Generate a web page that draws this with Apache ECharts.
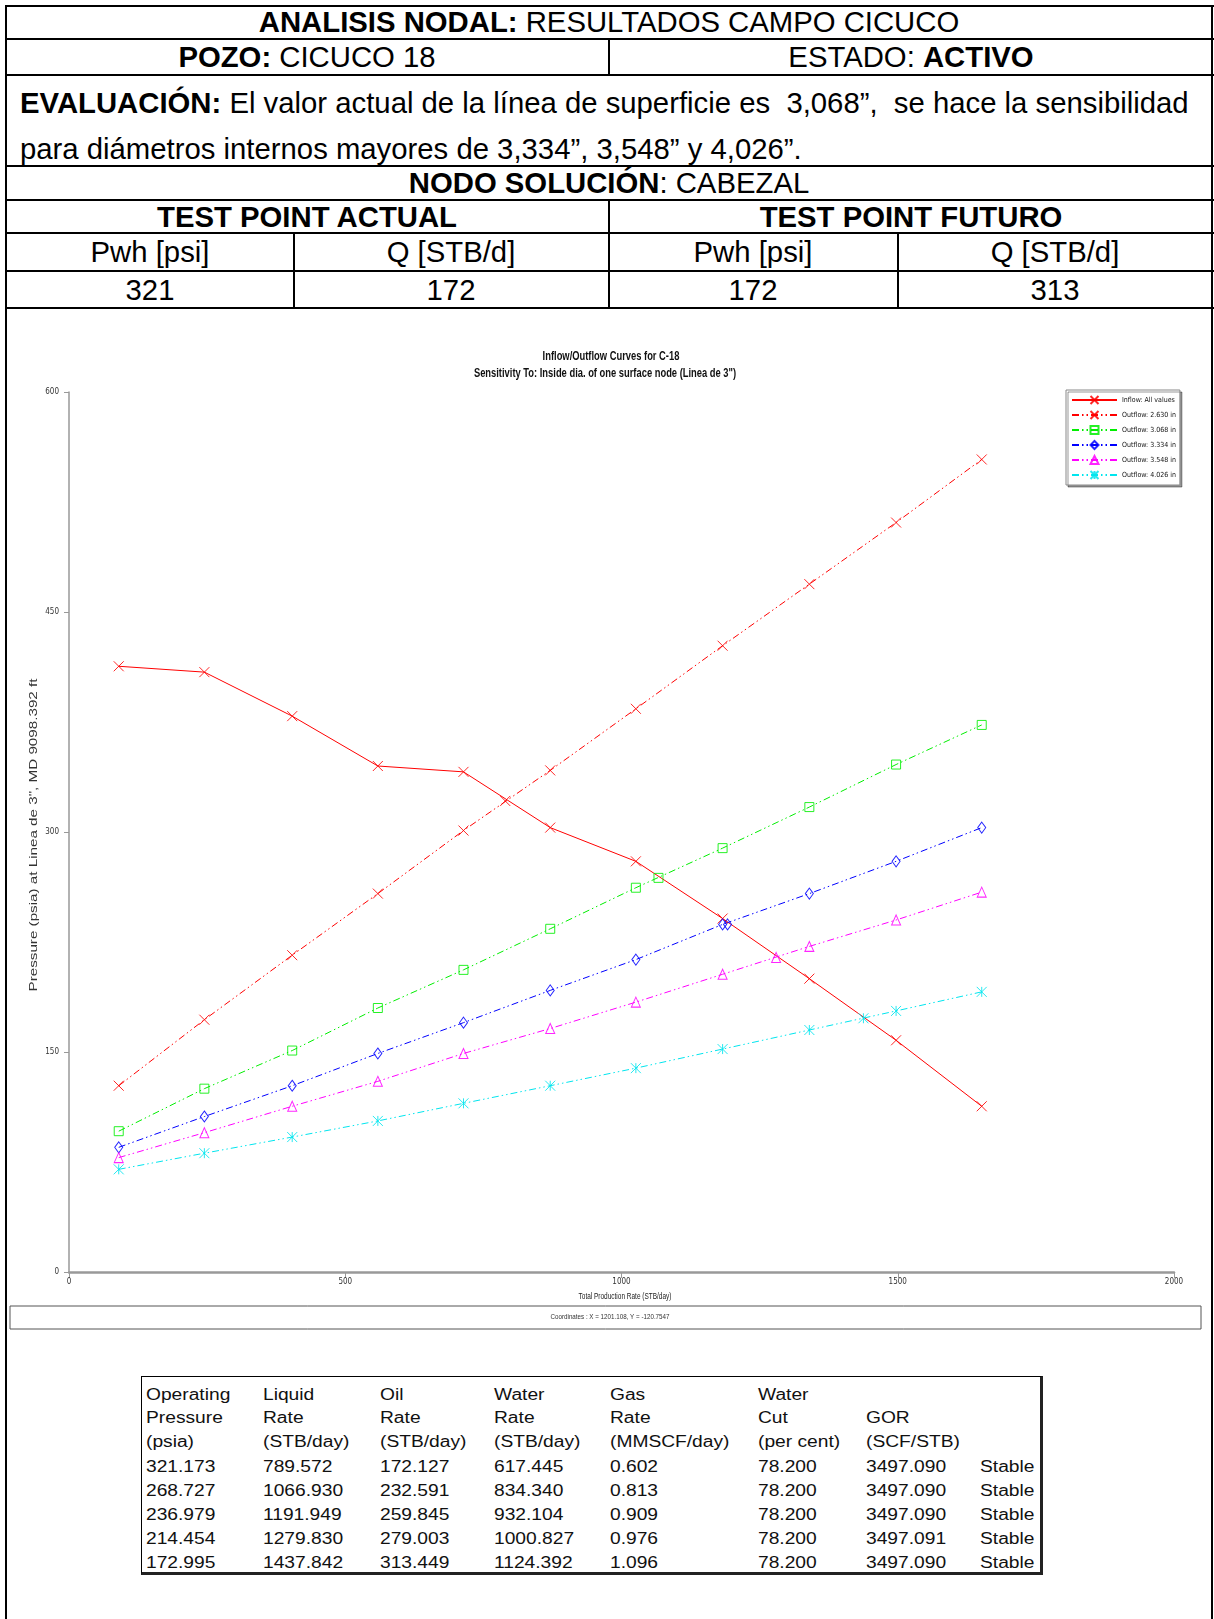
<!DOCTYPE html>
<html><head><meta charset="utf-8">
<script src="https://cdn.jsdelivr.net/npm/echarts@6/dist/echarts.min.js"></script>
<style>
body{margin:0;width:1214px;height:1619px;position:relative;background:#fff;font-family:'Liberation Sans',Arial,sans-serif;overflow:hidden}
.ln{position:absolute;background:#000}
.t{position:absolute;font-size:29.3px;color:#000;white-space:nowrap;line-height:1}
.cc{transform:translate(-50%,-50%)}
.lc{transform:translate(0,-50%)}
#chart{position:absolute;left:7px;top:309px;width:1204px;height:1040px}
#tbl{position:absolute;left:141px;top:1376px;width:898px;height:195px;border:1px solid #000;border-right:3px solid #222;border-bottom:3px solid #222;background:#fff}
.bt{position:absolute;font-size:16px;color:#111;white-space:nowrap;line-height:1;transform-origin:0 50%;transform:translate(0,-50%) scaleX(1.2)}
</style></head>
<body>
<div id="chart"></div>
<div id="tbl"></div>
<script>
// ---- data ----
const testPointActual = [321, 172];
const testPointFuturo = [172, 313];
const rates = [90, 245, 404, 559, 714, 871, 1026, 1183, 1340, 1497, 1652];
const inflow  = [413, 409, 379, 345, 341, 303, 280, 241, 200, 158, 113];
const out2630 = [127, 172, 216, 258, 301, 342, 384, 427, 469, 511, 554];
const out3068 = [96, 125, 151, 180, 206, 234, 262, 289, 317, 346, 373];
const out3334 = [85, 106, 127, 149, 170, 192, 213, 237, 258, 280, 303];
const out3548 = [78, 95, 113, 130, 149, 166, 184, 203, 222, 240, 259];
const out4026 = [70, 81, 92, 103, 115, 127, 139, 152, 165, 178, 191];
const seriesNames = ['Inflow: All values','Outflow: 2.630 in','Outflow: 3.068 in','Outflow: 3.334 in','Outflow: 3.548 in','Outflow: 4.026 in'];
const opPressure = [321.173, 268.727, 236.979, 214.454, 172.995];
const liquidRate = [789.572, 1066.930, 1191.949, 1279.830, 1437.842];
const oilRate    = [172.127, 232.591, 259.845, 279.003, 313.449];
const waterRate  = [617.445, 834.340, 932.104, 1000.827, 1124.392];
const gasRate    = [0.602, 0.813, 0.909, 0.976, 1.096];
const waterCut   = [78.200, 78.200, 78.200, 78.200, 78.200];
const gor        = [3497.090, 3497.090, 3497.090, 3497.091, 3497.090];
const status     = ['Stable','Stable','Stable','Stable','Stable'];
const xTicks = [0, 500, 1000, 1500, 2000];
const yTicks = [0, 150, 300, 450, 600];

// ---- top table ----
function L(x,y,w,h){const d=document.createElement('div');d.className='ln';d.style.cssText=`left:${x}px;top:${y}px;width:${w}px;height:${h}px`;document.body.appendChild(d);}
function T(html,x,y,cls){const d=document.createElement('div');d.className='t '+cls;d.style.left=x+'px';d.style.top=y+'px';d.innerHTML=html;document.body.appendChild(d);}
[5,38,74,165,199,232,270,307].forEach(y=>L(5,y,1209,2));
L(5,5,2,1614); L(1211,5,2,1614);
L(608,38,2,36); L(608,199,2,108); L(293,232,2,75); L(897,232,2,75);
T('<b>ANALISIS NODAL:</b> RESULTADOS CAMPO CICUCO',609,22,'cc');
T('<b>POZO:</b> CICUCO 18',307,57,'cc');
T('ESTADO: <b>ACTIVO</b>',911,57,'cc');
T('<b>EVALUACIÓN:</b> El valor actual de la línea de superficie es&nbsp; 3,068”,&nbsp; se hace la sensibilidad',20,103,'lc');
T('para diámetros internos mayores de 3,334”, 3,548” y 4,026”.',20,149,'lc');
T('<b>NODO SOLUCIÓN</b>: CABEZAL',609,183,'cc');
T('<b>TEST POINT ACTUAL</b>',307,217,'cc');
T('<b>TEST POINT FUTURO</b>',911,217,'cc');
T('Pwh [psi]',150,252,'cc'); T('Q [STB/d]',451,252,'cc');
T('Pwh [psi]',753,252,'cc'); T('Q [STB/d]',1055,252,'cc');
T(String(testPointActual[0]),150,290,'cc'); T(String(testPointActual[1]),451,290,'cc');
T(String(testPointFuturo[0]),753,290,'cc'); T(String(testPointFuturo[1]),1055,290,'cc');

// ---- bottom results table ----
const tbl=document.getElementById('tbl');
const colX=[4,121,238,352,468,616,724,838];
const rowY=[18,41,65,90,114,138,162,186];
const header=[['Operating','Liquid','Oil','Water','Gas','Water','',''],
              ['Pressure','Rate','Rate','Rate','Rate','Cut','GOR',''],
              ['(psia)','(STB/day)','(STB/day)','(STB/day)','(MMSCF/day)','(per cent)','(SCF/STB)','']];
const rows=header.slice();
for(let i=0;i<opPressure.length;i++){
  rows.push([opPressure[i].toFixed(3),liquidRate[i].toFixed(3),oilRate[i].toFixed(3),waterRate[i].toFixed(3),gasRate[i].toFixed(3),waterCut[i].toFixed(3),gor[i].toFixed(3),status[i]]);
}
rows.forEach((r,ri)=>r.forEach((s,ci)=>{ if(!s) return; const d=document.createElement('div');d.className='bt';d.style.left=colX[ci]+'px';d.style.top=rowY[ri]+'px';d.textContent=s;tbl.appendChild(d);}));

// ---- chart ----
const NARROW="'Liberation Sans Narrow','DejaVu Sans Condensed','Arial Narrow',sans-serif";
const SANS="'Liberation Sans',Arial,sans-serif";
const SYM_X='path://M0,0L10,10M10,0L0,10';
const SYM_AST='path://M0,0L10,10M10,0L0,10M5,0L5,10';
const colors=['#ff0000','#ff0000','#00ee00','#0000ff','#ff00ff','#00e5ee'];
const symbols=[SYM_X,SYM_X,'rect','diamond','triangle',SYM_AST];
const sizes=[[10,10],[10,10],[9,9],[8,11],[9,10],[10,10]];
const vals=[inflow,out2630,out3068,out3334,out3548,out4026];
const dashDot=[7,3,1.5,3,1.5,3];
const series=vals.map((v,i)=>({
  name:seriesNames[i], type:'line', data:rates.map((x,j)=>[x,v[j]]),
  symbol:symbols[i], symbolSize:sizes[i], showSymbol:true,
  lineStyle:{color:colors[i],width:1,type:i===0?'solid':dashDot},
  itemStyle:{color:'rgba(255,255,255,0)',borderColor:colors[i],borderWidth:1,opacity:0.85},
  emphasis:{disabled:true}, z:2
}));
for(let i=0;i<opPressure.length;i++){
  series.push({name:'sol'+i,type:'scatter',data:[[liquidRate[i],opPressure[i]]],
    symbol:symbols[i+1],symbolSize:sizes[i+1],
    itemStyle:{color:'rgba(255,255,255,0)',borderColor:colors[i+1],borderWidth:1,opacity:0.85},z:3});
}
const chart=echarts.init(document.getElementById('chart'),null,{renderer:'canvas'});
chart.setOption({
  animation:false,
  legend:{data:seriesNames,orient:'vertical',left:1059,top:81,padding:[5,4,5,5],itemGap:5,itemWidth:45,itemHeight:10,
    borderColor:'#888',borderWidth:1,backgroundColor:'#fff',shadowColor:'rgba(0,0,0,0.4)',shadowOffsetX:2,shadowOffsetY:2,shadowBlur:0,
    textStyle:{fontFamily:NARROW,fontSize:7,color:'#111',padding:[0,0,0,0]},selectedMode:false},
  grid:{left:62,top:83,width:1105,height:880,containLabel:false},
  xAxis:{type:'value',min:xTicks[0],max:xTicks[xTicks.length-1],interval:xTicks[1]-xTicks[0],
    axisLine:{lineStyle:{color:'#999',width:2.5}},axisTick:{length:6,lineStyle:{color:'#999'}},
    axisLabel:{fontFamily:NARROW,fontSize:8,color:'#333',margin:6,formatter:v=>String(v)},splitLine:{show:false}},
  yAxis:{type:'value',min:yTicks[0],max:yTicks[yTicks.length-1],interval:yTicks[1]-yTicks[0],
    axisLine:{lineStyle:{color:'#999',width:1.5}},axisTick:{length:5,lineStyle:{color:'#999'}},
    axisLabel:{fontFamily:NARROW,fontSize:8,color:'#333',margin:10,formatter:v=>String(v)},splitLine:{show:false}},
  graphic:[
    {type:'text',x:604,y:48,scaleX:0.78,style:{text:'Inflow/Outflow Curves for C-18',font:"bold 12px "+SANS,fill:'#111',align:'center',verticalAlign:'middle'}},
    {type:'text',x:598,y:65,scaleX:0.78,style:{text:'Sensitivity To: Inside dia. of one surface node (Linea de 3")',font:"bold 12px "+SANS,fill:'#111',align:'center',verticalAlign:'middle'}},
    {type:'text',x:618,y:988,scaleX:0.72,style:{text:'Total Production Rate (STB/day)',font:"9px "+SANS,fill:'#222',align:'center',verticalAlign:'middle'}},
    {type:'text',x:27,y:526,rotation:Math.PI/2,scaleX:1.52,style:{text:'Pressure (psia) at Linea de 3", MD 9098.392 ft',font:"10px "+SANS,fill:'#333',align:'center',verticalAlign:'middle'}},
    {type:'rect',shape:{x:3,y:997,width:1191,height:23},style:{fill:'none',stroke:'#555',lineWidth:1}},
    {type:'text',x:603,y:1008,scaleX:0.78,style:{text:'Coordinates : X = 1201.108, Y = -120.7547',font:"8px "+SANS,fill:'#333',align:'center',verticalAlign:'middle'}}
  ],
  series:series
});
</script>
</body></html>
